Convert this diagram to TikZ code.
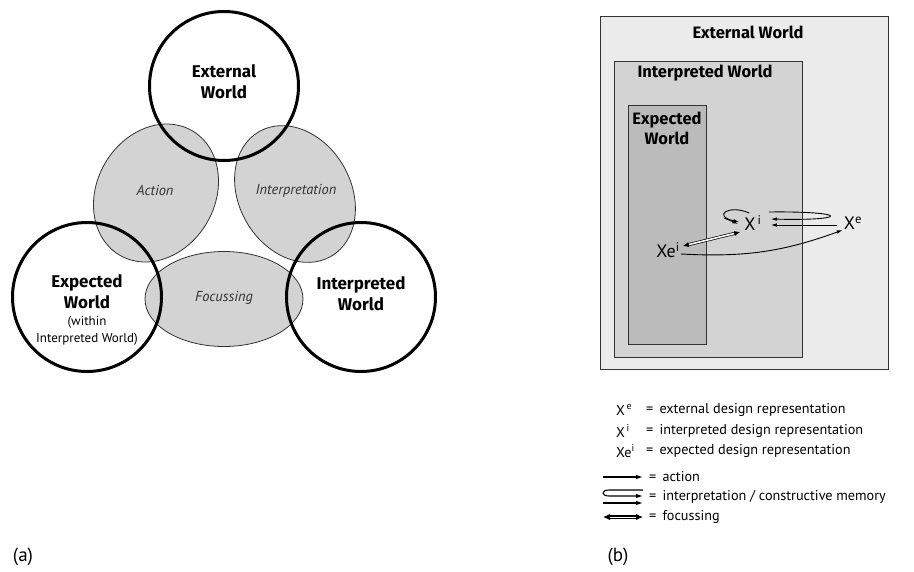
\documentclass[tikz,border=0pt]{standalone}
\usepackage{fontspec}
\setmainfont{PT Sans}
\newfontfamily\headfont{Fira Sans}
\usetikzlibrary{positioning}
\usetikzlibrary{shapes,arrows.meta}
\definecolor{outerGray}{HTML}{EBEBEB}
\definecolor{midGray}{HTML}{D3D3D3}
\definecolor{innerGray}{HTML}{BBBBBB}
\definecolor{lobeGray}{HTML}{D3D3D3}
\definecolor{edgeGray}{HTML}{333333}
\tikzset{
    world/.style={draw=black, line width=3pt, circle, minimum size=149pt, inner sep=0pt},
    lobe/.style={draw=edgeGray, fill=lobeGray, line width=0.8pt, ellipse, inner sep=0pt},
    lobeText/.style={font=\fontsize{14.4}{16}\selectfont\itshape, text=edgeGray},
    bigLabel/.style={font=\fontsize{17}{21}\selectfont\headfont\bfseries, align=center},
    smallLabel/.style={font=\fontsize{13}{17}\selectfont, align=center},
    worldBox/.style={draw=edgeGray, line width=1pt, anchor=north west, inner sep=0pt},
    boxLabel/.style={font=\fontsize{16.5}{20}\selectfont\headfont\bfseries, align=center},
    rep/.style={font=\fontsize{18}{20}\selectfont, inner sep=1pt},
    keyText/.style={font=\fontsize{14.2}{16}\selectfont, anchor=west, inner sep=0pt},
    act/.style={line width=0.9pt, -{Latex[length=6pt,width=3.5pt]}},
    actKey/.style={line width=1.1pt, -{Latex[length=7pt,width=4.5pt]}},
    foc/.style={double, double distance=1.6pt, line width=0.7pt, {Latex[length=6pt,width=5pt]}-{Latex[length=6pt,width=5pt]}},
    focKey/.style={double, double distance=1pt, line width=1.1pt, {Latex[length=7pt,width=6.5pt]}-{Latex[length=7pt,width=6.5pt]}}
}

\begin{document}
\begin{tikzpicture}[x=1pt, y=1pt]
	\useasboundingbox (0,0) rectangle (914,-571);
	% (a) three worlds
	\node[lobe, minimum width=144pt, minimum height=118pt, rotate=60] (action) at (156,-193) {};
	\node[lobe, minimum width=144pt, minimum height=112pt, rotate=-60] (interp) at (295,-194) {};
	\node[lobe, minimum width=158pt, minimum height=95pt] (focus) at (224,-299) {};
	\node[lobeText] at (155,-190) {Action};
	\node[lobeText] at (296,-191) {Interpretation};
	\node[lobeText] at (224,-298) {Focussing};
	\node[world] (ext) at (224,-86) {};
	\node[world] (exp) at (87,-297) {};
	\node[world] (int) at (361,-297) {};
	\node[bigLabel] at (224,-82) {External\\World};
	\node[bigLabel] at (87,-292) {Expected\\World};
	\node[smallLabel] at (87,-331) {(within\\Interpreted World)};
	\node[bigLabel] at (361,-294) {Interpreted\\World};
	\node[font=\fontsize{19}{20}\selectfont] (labA) at (23,-557) {(a)};
	% (b) nested worlds
	\node[worldBox, fill=outerGray, minimum width=288pt, minimum height=353pt] (extBox) at (600,-16) {};
	\node[worldBox, fill=midGray, minimum width=188pt, minimum height=296pt] (intBox) at (614,-61) {};
	\node[worldBox, fill=innerGray, minimum width=78pt, minimum height=239pt] (expBox) at (628,-105) {};
	\node[boxLabel] at (748,-32) {External World};
	\node[boxLabel] at (705,-73) {Interpreted World};
	\node[boxLabel] at (667,-128) {Expected\\World};
	\node[rep] (xei) at (668,-250) {Xe\textsuperscript{i}};
	\node[rep] (xi) at (753,-223) {X\textsuperscript{\,i}};
	\node[rep] (xe) at (853,-223) {X\textsuperscript{e}};
	\draw[foc] ([shift={(2,4)}]xei.east) -- ([shift={(-3,-9)}]xi.west);
	\draw[act] ([shift={(0,-4)}]xei.east) to[out=-3, in=200] ([shift={(0,-7)}]xe.west);
	\draw[act] ([shift={(6,11)}]xi.east) .. controls +(80,1) and +(80,-2) .. ([shift={(8,4)}]xi.east);
	\draw[act] ([shift={(-6,-2)}]xe.west) -- ([shift={(8,-2)}]xi.east);
	\draw[act] ([shift={(6,10)}]xi.west) .. controls +(-21,9) and +(-27,6) .. ([shift={(-4,1)}]xi.west);
	\draw[act] ([shift={(-19,5)}]xi.west) -- ([shift={(-5,-1)}]xi.west);
	% legend
	\node[keyText] (keyXe) at (616,-410) {X\textsuperscript{\,e}};
	\node[keyText] (keyXi) at (616,-431) {X\textsuperscript{\,i}};
	\node[keyText] (keyXei) at (616,-451) {Xe\textsuperscript{i}};
	\node[keyText] (defXe) at (646,-410) {=\, external design representation};
	\node[keyText] (defXi) at (646,-431) {=\, interpreted design representation};
	\node[keyText] (defXei) at (646,-451) {=\, expected design representation};
	\node[keyText] (defAct) at (649,-477) {=\, action};
	\node[keyText] (defInt) at (649,-497) {=\, interpretation / constructive memory};
	\node[keyText] (defFoc) at (649,-517) {=\, focussing};
	\draw[actKey] ([xshift=-46]defAct.west) -- ([xshift=-6]defAct.west);
	\draw[actKey] ([shift={(-6,7)}]defInt.west) -- ++(-34,0) .. controls +(-8,0) and +(-8,0) .. ([shift={(-40,1)}]defInt.west) -- ([shift={(-6,1)}]defInt.west);
	\draw[actKey] ([shift={(-46,-6)}]defInt.west) -- ([shift={(-6,-6)}]defInt.west);
	\draw[focKey] ([xshift=-46]defFoc.west) -- ([xshift=-6]defFoc.west);
	\node[font=\fontsize{19}{20}\selectfont] (labB) at (618,-557) {(b)};
\end{tikzpicture}
\end{document}
